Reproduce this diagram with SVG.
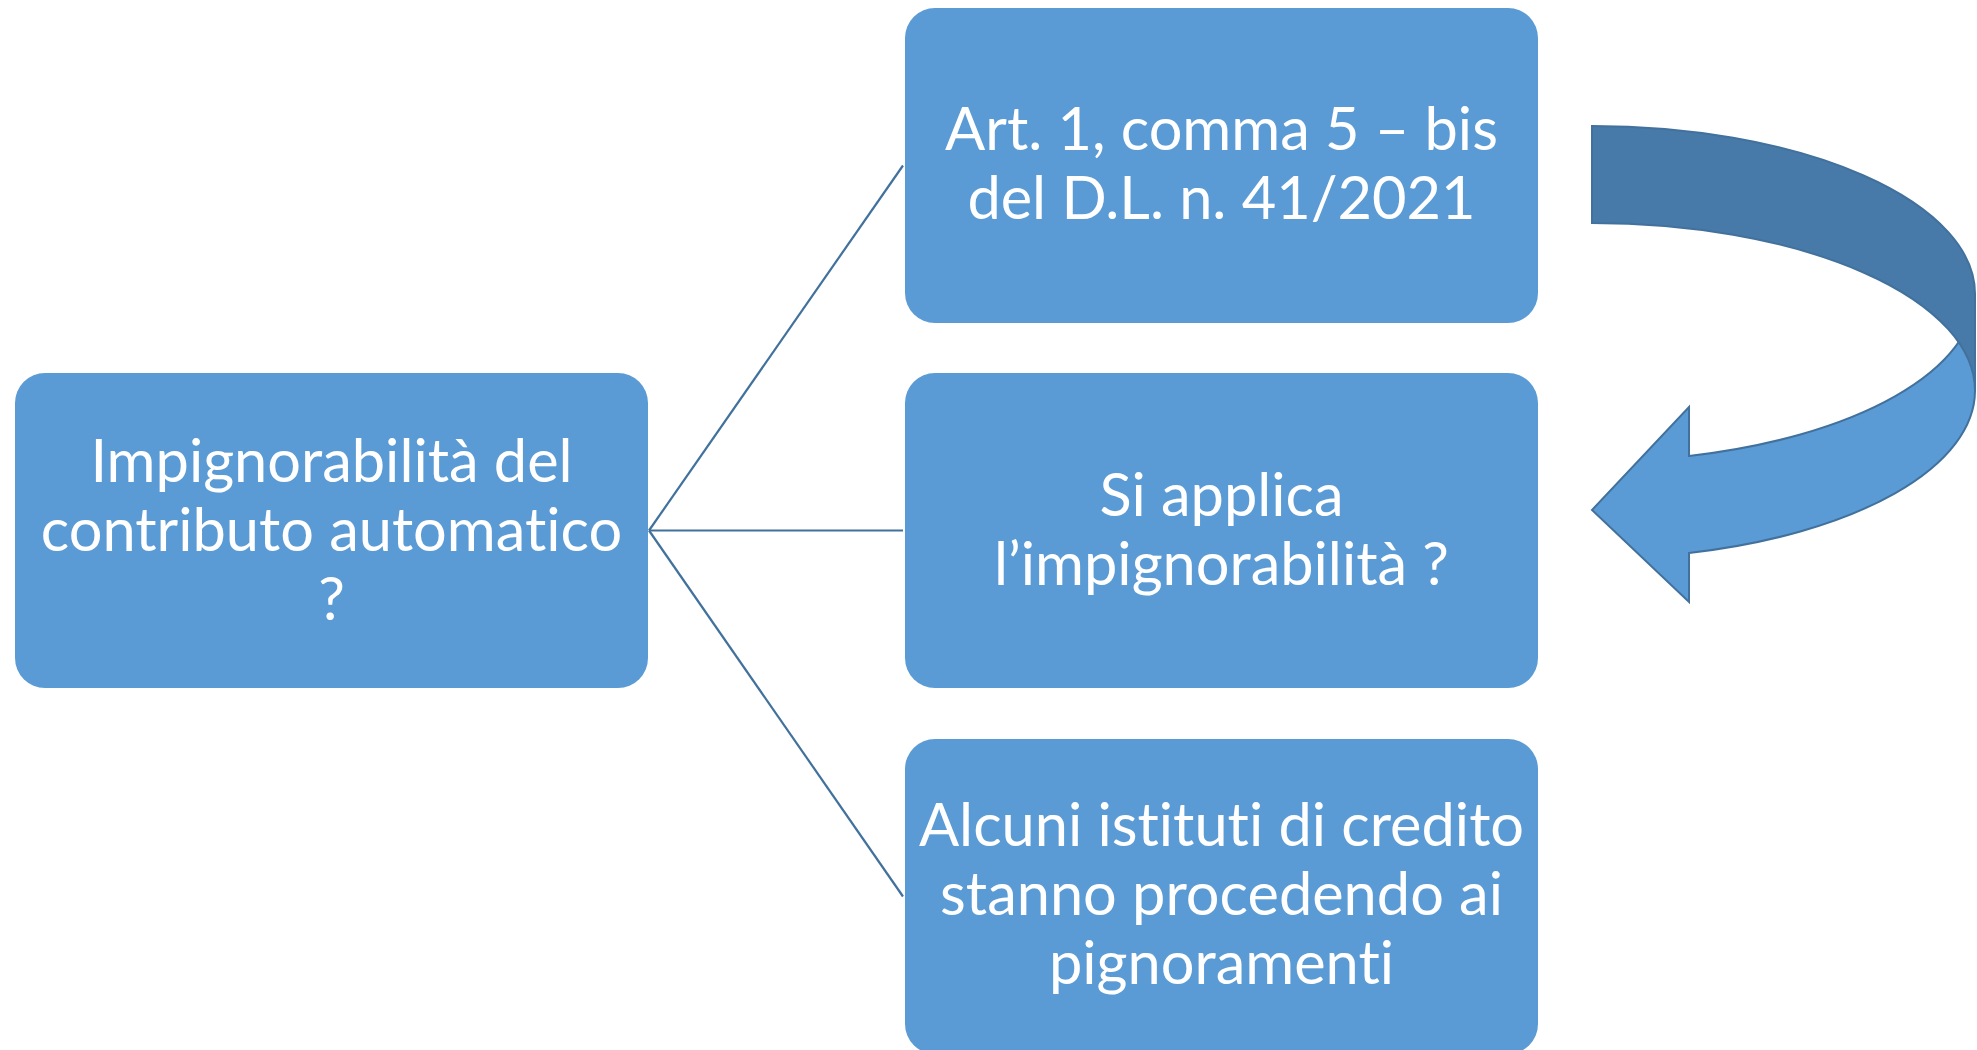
<svg xmlns="http://www.w3.org/2000/svg" width="1977" height="1050" viewBox="0 0 1977 1050">
<style>
.box{fill:#5B9BD5;}
.lbl{font-family:Lato,"Open Sans","Liberation Sans",sans-serif;font-size:59.5px;fill:#FFFFFF;text-anchor:middle;font-variant-ligatures:none;font-feature-settings:"liga" 0;}
.conn{stroke:#41719C;stroke-width:2.2;fill:none;}
.arr{stroke:#41719C;stroke-width:2;stroke-linejoin:miter;}
</style>
<rect width="1977" height="1050" fill="#FFFFFF"/>
<g id="connectors">
<line class="conn" x1="649" y1="530.5" x2="903" y2="165.5"/>
<line class="conn" x1="649" y1="530.5" x2="903" y2="530.5"/>
<line class="conn" x1="649" y1="530.5" x2="903" y2="896.5"/>
</g>
<g id="node-root">
<rect class="box" x="15" y="373" width="633" height="315" rx="30" ry="30"/>
<text class="lbl" x="331.5" y="482">Impignorabilità del</text>
<text class="lbl" x="331.5" y="551">contributo automatico</text>
<text class="lbl" x="331.5" y="620">?</text>
</g>
<g id="node-art">
<rect class="box" x="905" y="8" width="633" height="315" rx="30" ry="30"/>
<text class="lbl" x="1221.5" y="150">Art. 1, comma 5 – bis</text>
<text class="lbl" x="1221.5" y="219">del D.L. n. 41/2021</text>
</g>
<g id="node-applica">
<rect class="box" x="905" y="373" width="633" height="315" rx="30" ry="30"/>
<text class="lbl" x="1221.5" y="516">Si applica</text>
<text class="lbl" x="1221.5" y="585">l’impignorabilità ?</text>
</g>
<g id="node-istituti">
<rect class="box" x="905" y="739" width="633" height="315" rx="30" ry="30"/>
<text class="lbl" x="1221.5" y="846">Alcuni istituti di credito</text>
<text class="lbl" x="1221.5" y="915">stanno procedendo ai</text>
<text class="lbl" x="1221.5" y="984">pignoramenti</text>
</g>
<g id="curved-arrow">
<path class="arr" fill="#5B9BD5" d="M1975,391 A383,167.8 0 0 1 1689,553 L1689,602 L1592,510 L1689,407 L1689,456 A383,167.8 0 0 0 1975,294 Z"/>
<path class="arr" fill="#487AA9" d="M1592,126 A383,167.8 0 0 1 1975,294 L1975,391 A383,167.8 0 0 0 1592,223 Z"/>
</g>
</svg>
